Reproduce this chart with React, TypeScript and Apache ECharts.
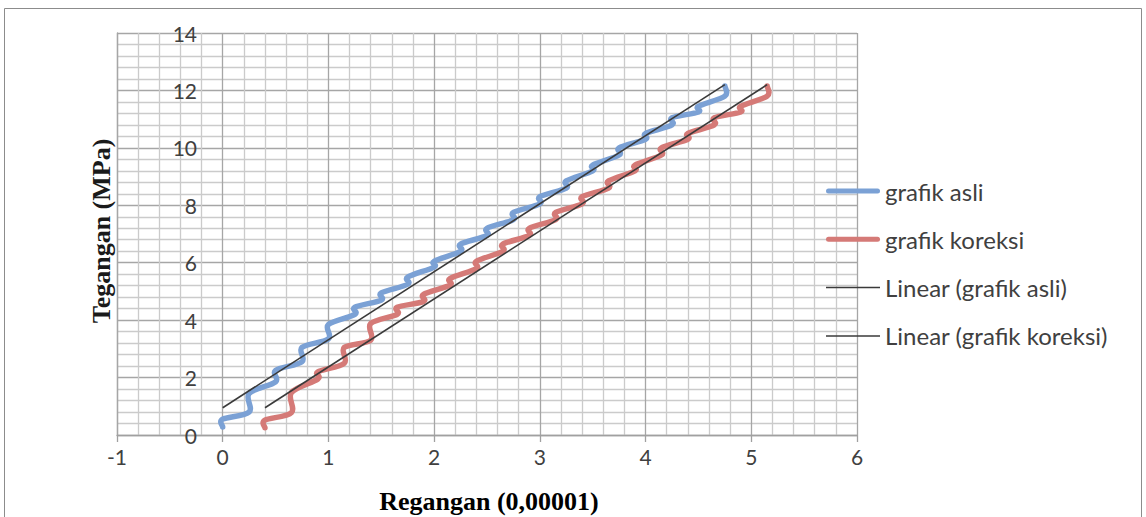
import React, { useEffect, useRef } from "react";
import * as echarts from "echarts";

const blueX = [0, 0, 0.25, 0.25, 0.5, 0.5, 0.75, 0.75, 1, 1, 1.25, 1.25, 1.5, 1.5, 1.75, 1.75, 2, 2, 2.25, 2.25, 2.5, 2.5, 2.75, 2.75, 3, 3, 3.25, 3.25, 3.5, 3.5, 3.75, 3.75, 4, 4, 4.25, 4.25, 4.5, 4.5, 4.75, 4.75];
const blueY = [0.28, 0.55, 0.8, 1.45, 1.85, 2.25, 2.55, 3.05, 3.35, 3.85, 4.2, 4.45, 4.7, 4.95, 5.25, 5.5, 5.85, 6.05, 6.4, 6.65, 6.95, 7.2, 7.5, 7.75, 8.05, 8.3, 8.6, 8.85, 9.2, 9.4, 9.75, 10.0, 10.3, 10.5, 10.8, 11.05, 11.25, 11.45, 11.8, 12.15];
const redX = [0.4, 0.4, 0.65, 0.65, 0.9, 0.9, 1.15, 1.15, 1.4, 1.4, 1.65, 1.65, 1.9, 1.9, 2.15, 2.15, 2.4, 2.4, 2.65, 2.65, 2.9, 2.9, 3.15, 3.15, 3.4, 3.4, 3.65, 3.65, 3.9, 3.9, 4.15, 4.15, 4.4, 4.4, 4.65, 4.65, 4.9, 4.9, 5.15, 5.15];
const redY = [0.25, 0.52, 0.78, 1.48, 1.95, 2.2, 2.5, 3.05, 3.3, 3.88, 4.2, 4.45, 4.65, 4.9, 5.22, 5.45, 5.8, 6.05, 6.4, 6.65, 6.95, 7.2, 7.5, 7.75, 8.05, 8.3, 8.6, 8.85, 9.2, 9.4, 9.75, 10.0, 10.3, 10.5, 10.8, 11.05, 11.25, 11.45, 11.8, 12.15];
const trendAsliX = [0, 4.75];
const trendAsliY = [0.95, 12.2];
const trendKoreksiX = [0.4, 5.15];
const trendKoreksiY = [0.95, 12.2];
const seriesNames = ["grafik asli", "grafik koreksi", "Linear (grafik asli)", "Linear (grafik koreksi)"];
const xTitle = "Regangan (0,00001)";
const yTitle = "Tegangan (MPa)";

const BLUE = "#7ba1d5";
const RED = "#d57a77";
const DARK = "#3a3a3a";

const pairs = (xs: number[], ys: number[]) => xs.map((x, i) => [x, ys[i]]);

// Smooth curve through pixel points (Catmull-Rom style, like spreadsheet smoothed lines)
function smoothPath(pts: number[][]): string {
  let d = `M${pts[0][0]},${pts[0][1]}`;
  for (let i = 0; i < pts.length - 1; i++) {
    const p0 = pts[i - 1] || pts[i];
    const p1 = pts[i];
    const p2 = pts[i + 1];
    const p3 = pts[i + 2] || pts[i + 1];
    const c1x = p1[0] + (p2[0] - p0[0]) / 6;
    const c1y = p1[1] + (p2[1] - p0[1]) / 6;
    const c2x = p2[0] - (p3[0] - p1[0]) / 6;
    const c2y = p2[1] - (p3[1] - p1[1]) / 6;
    d += ` C${c1x},${c1y} ${c2x},${c2y} ${p2[0]},${p2[1]}`;
  }
  return d;
}

function smoothSeries(name: string, xs: number[], ys: number[], color: string) {
  const data = pairs(xs, ys);
  return {
    name,
    type: "custom",
    data,
    encode: { x: 0, y: 1 },
    itemStyle: { color },
    z: 2,
    renderItem: (params: any, api: any) => {
      if (params.dataIndex !== 0) return null;
      const pts = data.map((p) => api.coord(p));
      return {
        type: "path",
        shape: { pathData: smoothPath(pts) },
        style: { fill: "none", stroke: color, lineWidth: 5.5, lineCap: "round", lineJoin: "round" },
      };
    },
  };
}

const thickIcon = "path://M2.5,0H51.5A2.5,2.5,0,0,1,51.5,5H2.5A2.5,2.5,0,0,1,2.5,0Z";
const thinIcon = "path://M0,0H54V1.5H0Z";

export default function App() {
  const ref = useRef<HTMLDivElement>(null);
  useEffect(() => {
    const chart = echarts.init(ref.current!, null, { renderer: "svg" });
    const labelFont = "Lato, 'Open Sans', sans-serif";
    const titleFont = "bold 26px 'Liberation Serif', 'Times New Roman', serif";
    chart.setOption({
      animation: false,
      backgroundColor: "#ffffff",
      grid: { left: 117, right: 289, top: 33, bottom: 82, containLabel: false },
      xAxis: {
        type: "value",
        min: -1,
        max: 6,
        interval: 1,
        axisLine: { show: true, onZero: false, lineStyle: { color: "#a0a0a0", width: 1.3 } },
        axisTick: { show: true, length: 7, lineStyle: { color: "#a0a0a0", width: 1.3 } },
        axisLabel: { color: "#404040", fontSize: 21, fontFamily: labelFont, margin: 11 },
        splitLine: { show: true, lineStyle: { color: "#a6a6a6", width: 1.3 } },
        minorTick: { show: false, splitNumber: 5 },
        minorSplitLine: { show: true, lineStyle: { color: "#cbcbcb", width: 1.3 } },
      },
      yAxis: {
        type: "value",
        min: 0,
        max: 14,
        interval: 2,
        axisLine: { show: true, onZero: false, lineStyle: { color: "#a6a6a6", width: 1.3 } },
        axisTick: { show: false },
        axisLabel: { color: "#404040", fontSize: 21, fontFamily: labelFont, margin: -80 },
        splitLine: { show: true, lineStyle: { color: "#a6a6a6", width: 1.3 } },
        minorTick: { show: false, splitNumber: 5 },
        minorSplitLine: { show: true, lineStyle: { color: "#cbcbcb", width: 1.3 } },
      },
      legend: {
        orient: "vertical",
        left: 826,
        top: 179,
        padding: 0,
        itemWidth: 54,
        itemHeight: 24,
        itemGap: 24.3,
        symbolKeepAspect: true,
        textStyle: { color: "#404040", fontSize: 24, fontFamily: labelFont },
        data: [
          { name: seriesNames[0], icon: thickIcon, itemStyle: { color: BLUE } },
          { name: seriesNames[1], icon: thickIcon, itemStyle: { color: RED } },
          { name: seriesNames[2], icon: thinIcon, itemStyle: { color: DARK } },
          { name: seriesNames[3], icon: thinIcon, itemStyle: { color: DARK } },
        ],
      },
      graphic: [
        {
          type: "rect",
          shape: { x: 4.5, y: 8.5, width: 1137, height: 540 },
          style: { fill: "none", stroke: "#8c8c8c", lineWidth: 1 },
          silent: true,
        },
        {
          type: "text",
          x: 101,
          y: 231,
          rotation: Math.PI / 2,
          style: {
            text: yTitle,
            font: titleFont,
            fill: "#1a1a1a",
            textAlign: "center",
            textVerticalAlign: "middle",
          },
        },
        {
          type: "text",
          x: 489,
          y: 501,
          style: {
            text: xTitle,
            font: titleFont,
            fill: "#000000",
            textAlign: "center",
            textVerticalAlign: "middle",
          },
        },
      ],
      series: [
        smoothSeries(seriesNames[0], blueX, blueY, BLUE),
        smoothSeries(seriesNames[1], redX, redY, RED),
        {
          name: seriesNames[2],
          type: "line",
          data: pairs(trendAsliX, trendAsliY),
          symbol: "none",
          lineStyle: { color: DARK, width: 1.6 },
          itemStyle: { color: DARK },
          z: 3,
        },
        {
          name: seriesNames[3],
          type: "line",
          data: pairs(trendKoreksiX, trendKoreksiY),
          symbol: "none",
          lineStyle: { color: DARK, width: 1.6 },
          itemStyle: { color: DARK },
          z: 3,
        },
      ],
    });
    return () => chart.dispose();
  }, []);
  return <div ref={ref} style={{ position: "fixed", left: 0, top: 0, width: 1146, height: 517 }} />;
}
